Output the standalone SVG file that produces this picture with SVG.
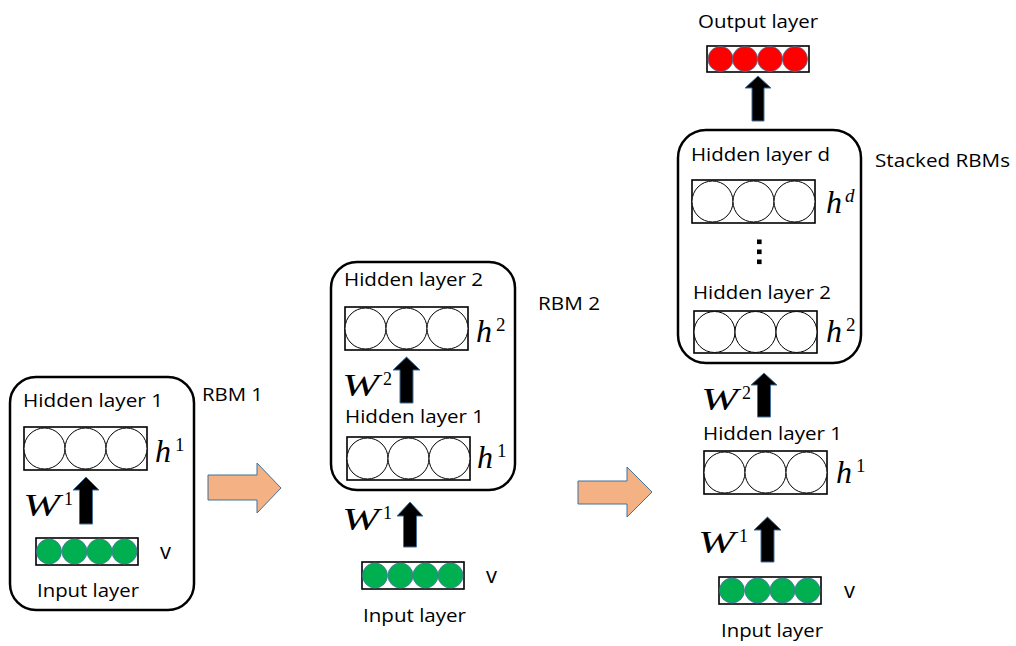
<svg xmlns="http://www.w3.org/2000/svg" width="1016" height="646" viewBox="0 0 1016 646">
<style>
.t{font-family:"Open Sans","Liberation Sans",sans-serif;font-size:19px;fill:#000}
.v{font-family:"Open Sans","Liberation Sans",sans-serif;font-size:22px;fill:#000}
.mh{font-family:"Liberation Serif","DejaVu Serif",serif;font-style:italic;font-size:32px;fill:#000}
.mw{font-family:"Liberation Serif","DejaVu Serif",serif;font-style:italic;font-size:31px;fill:#000}
.sh{font-family:"Liberation Serif","DejaVu Serif",serif;font-size:19px;fill:#000}
.sw{font-family:"Liberation Serif","DejaVu Serif",serif;font-size:18px;fill:#000}
.cont{fill:#fff;stroke:#000;stroke-width:2.5}
.box{fill:#fff;stroke:#000;stroke-width:1.6}
.hc{fill:#fff;stroke:#000;stroke-width:1}
.gc{fill:#00B050;stroke:#41719C;stroke-width:0.8}
.rc{fill:#FF0000;stroke:#41719C;stroke-width:0.8}
.up{fill:#000;stroke:#41719C;stroke-width:1}
.fw{fill:#F4B183;stroke:#41719C;stroke-width:1}
</style>
<rect width="1016" height="646" fill="#fff"/>

<!-- Panel 1: RBM 1 -->
<g id="rbm1">
<rect class="cont" x="10" y="377" width="184" height="233" rx="26"/>
<text class="t" x="23" y="407" textLength="140" lengthAdjust="spacingAndGlyphs">Hidden layer 1</text>
<text class="t" x="202" y="401" textLength="61" lengthAdjust="spacingAndGlyphs">RBM 1</text>
</g>
<g id="p1-hidden1">
<rect class="box" x="24" y="427" width="123" height="43"/>
<circle class="hc" cx="44.5" cy="448.5" r="20.5"/>
<circle class="hc" cx="85.5" cy="448.5" r="20.5"/>
<circle class="hc" cx="126.5" cy="448.5" r="20.5"/>
<text class="mh" x="155" y="462">h</text>
<text class="sh" x="175" y="451">1</text>
</g>
<g id="p1-input">
<rect class="box" x="36" y="538" width="102" height="27"/>
<circle class="gc" cx="49" cy="551.5" r="12.5"/>
<circle class="gc" cx="74.5" cy="551.5" r="12.5"/>
<circle class="gc" cx="99.5" cy="551.5" r="12.5"/>
<circle class="gc" cx="124.5" cy="551.5" r="12.5"/>
<text class="v" x="160" y="559">v</text>
<text class="t" x="37" y="597" textLength="102" lengthAdjust="spacingAndGlyphs">Input layer</text>
</g>

<!-- Panel 2: RBM 2 -->
<g id="rbm2">
<rect class="cont" x="331" y="262" width="184" height="228" rx="26"/>
<text class="t" x="344" y="286" textLength="139" lengthAdjust="spacingAndGlyphs">Hidden layer 2</text>
<text class="t" x="538" y="310" textLength="62" lengthAdjust="spacingAndGlyphs">RBM 2</text>
</g>
<g id="p2-hidden2">
<rect class="box" x="345" y="307" width="123" height="43"/>
<circle class="hc" cx="365.5" cy="328.5" r="20.5"/>
<circle class="hc" cx="406.5" cy="328.5" r="20.5"/>
<circle class="hc" cx="447.5" cy="328.5" r="20.5"/>
<text class="mh" x="476" y="342">h</text>
<text class="sh" x="496" y="331">2</text>
</g>
<g id="p2-hidden1">
<text class="t" x="345" y="423" textLength="139" lengthAdjust="spacingAndGlyphs">Hidden layer 1</text>
<rect class="box" x="347" y="437" width="123" height="43"/>
<circle class="hc" cx="367.5" cy="458.5" r="20.5"/>
<circle class="hc" cx="408.5" cy="458.5" r="20.5"/>
<circle class="hc" cx="449.5" cy="458.5" r="20.5"/>
<text class="mh" x="477" y="468">h</text>
<text class="sh" x="497" y="457">1</text>
</g>
<g id="p2-input">
<rect class="box" x="362" y="562" width="102" height="27"/>
<circle class="gc" cx="375" cy="575.5" r="12.5"/>
<circle class="gc" cx="400.5" cy="575.5" r="12.5"/>
<circle class="gc" cx="425.5" cy="575.5" r="12.5"/>
<circle class="gc" cx="450.5" cy="575.5" r="12.5"/>
<text class="v" x="486" y="583">v</text>
<text class="t" x="363" y="622" textLength="103" lengthAdjust="spacingAndGlyphs">Input layer</text>
</g>

<!-- Panel 3: Stacked RBMs -->
<g id="stacked">
<rect class="cont" x="678" y="130" width="183" height="233" rx="28"/>
<text class="t" x="691" y="161" textLength="139" lengthAdjust="spacingAndGlyphs">Hidden layer d</text>
<text class="t" x="875" y="167" textLength="135" lengthAdjust="spacingAndGlyphs">Stacked RBMs</text>
<rect x="757" y="239.5" width="4.6" height="4.6" fill="#000"/>
<rect x="757" y="249.5" width="4.6" height="4.6" fill="#000"/>
<rect x="757" y="259.5" width="4.6" height="4.6" fill="#000"/>
</g>
<g id="p3-output">
<text class="t" x="698" y="28" textLength="120" lengthAdjust="spacingAndGlyphs">Output layer</text>
<rect class="box" x="707" y="46" width="102" height="26"/>
<circle class="rc" cx="720.5" cy="59" r="12.5"/>
<circle class="rc" cx="745" cy="59" r="12.5"/>
<circle class="rc" cx="770" cy="59" r="12.5"/>
<circle class="rc" cx="795" cy="59" r="12.5"/>
</g>
<g id="p3-hiddend">
<rect class="box" x="692" y="180" width="123" height="43"/>
<circle class="hc" cx="712.5" cy="201.5" r="20.5"/>
<circle class="hc" cx="753.5" cy="201.5" r="20.5"/>
<circle class="hc" cx="794.5" cy="201.5" r="20.5"/>
<text class="mh" x="826" y="213">h</text>
<text class="sh" x="845" y="202" font-style="italic">d</text>
</g>
<g id="p3-hidden2">
<text class="t" x="693" y="299" textLength="138" lengthAdjust="spacingAndGlyphs">Hidden layer 2</text>
<rect class="box" x="694" y="311" width="123" height="42"/>
<circle class="hc" cx="714.5" cy="332" r="20.5"/>
<circle class="hc" cx="755.5" cy="332" r="20.5"/>
<circle class="hc" cx="796.5" cy="332" r="20.5"/>
<text class="mh" x="826" y="342">h</text>
<text class="sh" x="846" y="331">2</text>
</g>
<g id="p3-hidden1">
<text class="t" x="703" y="440" textLength="139" lengthAdjust="spacingAndGlyphs">Hidden layer 1</text>
<rect class="box" x="704" y="451" width="123" height="43"/>
<circle class="hc" cx="724.5" cy="472.5" r="20.5"/>
<circle class="hc" cx="765.5" cy="472.5" r="20.5"/>
<circle class="hc" cx="806.5" cy="472.5" r="20.5"/>
<text class="mh" x="836" y="483">h</text>
<text class="sh" x="856" y="472">1</text>
</g>
<g id="p3-input">
<rect class="box" x="719" y="577" width="102" height="27"/>
<circle class="gc" cx="732" cy="590.5" r="12.5"/>
<circle class="gc" cx="757.5" cy="590.5" r="12.5"/>
<circle class="gc" cx="782.5" cy="590.5" r="12.5"/>
<circle class="gc" cx="807.5" cy="590.5" r="12.5"/>
<text class="v" x="844" y="598">v</text>
<text class="t" x="721" y="637" textLength="102" lengthAdjust="spacingAndGlyphs">Input layer</text>
</g>

<!-- Connectors -->
<g id="connectors">
<path class="up" d="M86,477 L99,490 L92.5,490 L92.5,524 L79.5,524 L79.5,490 L73,490 Z"/>
<path class="up" d="M406.5,357 L420,370 L413,370 L413,403 L400,403 L400,370 L393,370 Z"/>
<path class="up" d="M410,502 L423,516 L416.5,516 L416.5,547 L403.5,547 L403.5,516 L397,516 Z"/>
<path class="up" d="M758,76 L771,88 L764,88 L764,121 L752,121 L752,88 L745,88 Z"/>
<path class="up" d="M764,373 L777,385 L770.5,385 L770.5,417 L757.5,417 L757.5,385 L751,385 Z"/>
<path class="up" d="M767.5,517 L781,530 L774,530 L774,562 L761,562 L761,530 L754,530 Z"/>
<path class="fw" d="M208,475 L257,475 L257,463 L281,488 L257,513 L257,500 L208,500 Z"/>
<path class="fw" d="M578,481 L627,481 L627,467 L652,492 L627,517 L627,504 L578,504 Z"/>
<text class="mw" x="23" y="516" textLength="37" lengthAdjust="spacingAndGlyphs">W</text>
<text class="sw" x="64" y="505">1</text>
<text class="mw" x="342" y="396" textLength="37" lengthAdjust="spacingAndGlyphs">W</text>
<text class="sw" x="383" y="385">2</text>
<text class="mw" x="342" y="530" textLength="37" lengthAdjust="spacingAndGlyphs">W</text>
<text class="sw" x="383" y="519">1</text>
<text class="mw" x="701" y="410" textLength="37" lengthAdjust="spacingAndGlyphs">W</text>
<text class="sw" x="742" y="399">2</text>
<text class="mw" x="698" y="553" textLength="37" lengthAdjust="spacingAndGlyphs">W</text>
<text class="sw" x="739" y="542">1</text>
</g>
</svg>
